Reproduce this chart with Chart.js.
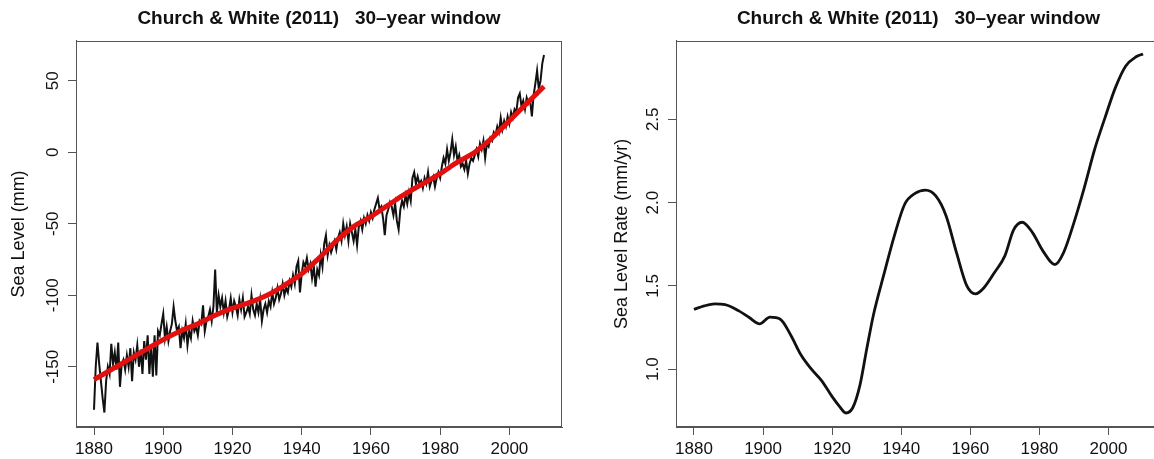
<!DOCTYPE html>
<html>
<head>
<meta charset="utf-8">
<script src="https://cdn.jsdelivr.net/npm/chart.js@4.4.1/dist/chart.umd.min.js"></script>
<style>
  html, body { margin: 0; padding: 0; background: #fff; }
  #wrap { position: relative; width: 1154px; height: 459px; overflow: hidden; }
  #left { position: absolute; left: 0; top: 0; width: 580px; height: 459px; }
  #right { position: absolute; left: 580px; top: 0; width: 574px; height: 459px; overflow: hidden; }
</style>
</head>
<body>
<div id="wrap">
  <div id="left"><canvas id="levelChart" width="580" height="459"></canvas></div>
  <div id="right"><canvas id="rateChart" width="600" height="459"></canvas></div>
</div>
<script>
// Sea level (mm) at half-year steps
const levelYears = [
  1880,1880.5,1881,1881.5,1882,1882.5,1883,1883.5,1884,1884.5,1885,1885.5,1886,1886.5,1887,1887.5,1888,1888.5,1889,1889.5,
  1890,1890.5,1891,1891.5,1892,1892.5,1893,1893.5,1894,1894.5,1895,1895.5,1896,1896.5,1897,1897.5,1898,1898.5,1899,1899.5,
  1900,1900.5,1901,1901.5,1902,1902.5,1903,1903.5,1904,1904.5,1905,1905.5,1906,1906.5,1907,1907.5,1908,1908.5,1909,1909.5,
  1910,1910.5,1911,1911.5,1912,1912.5,1913,1913.5,1914,1914.5,1915,1915.5,1916,1916.5,1917,1917.5,1918,1918.5,1919,1919.5,
  1920,1920.5,1921,1921.5,1922,1922.5,1923,1923.5,1924,1924.5,1925,1925.5,1926,1926.5,1927,1927.5,1928,1928.5,1929,1929.5,
  1930,1930.5,1931,1931.5,1932,1932.5,1933,1933.5,1934,1934.5,1935,1935.5,1936,1936.5,1937,1937.5,1938,1938.5,1939,1939.5,
  1940,1940.5,1941,1941.5,1942,1942.5,1943,1943.5,1944,1944.5,1945,1945.5,1946,1946.5,1947,1947.5,1948,1948.5,1949,1949.5,
  1950,1950.5,1951,1951.5,1952,1952.5,1953,1953.5,1954,1954.5,1955,1955.5,1956,1956.5,1957,1957.5,1958,1958.5,1959,1959.5,
  1960,1960.5,1961,1961.5,1962,1962.5,1963,1963.5,1964,1964.5,1965,1965.5,1966,1966.5,1967,1967.5,1968,1968.5,1969,1969.5,
  1970,1970.5,1971,1971.5,1972,1972.5,1973,1973.5,1974,1974.5,1975,1975.5,1976,1976.5,1977,1977.5,1978,1978.5,1979,1979.5,
  1980,1980.5,1981,1981.5,1982,1982.5,1983,1983.5,1984,1984.5,1985,1985.5,1986,1986.5,1987,1987.5,1988,1988.5,1989,1989.5,
  1990,1990.5,1991,1991.5,1992,1992.5,1993,1993.5,1994,1994.5,1995,1995.5,1996,1996.5,1997,1997.5,1998,1998.5,1999,1999.5,
  2000,2000.5,2001,2001.5,2002,2002.5,2003,2003.5,2004,2004.5,2005,2005.5,2006,2006.5,2007,2007.5,2008,2008.5,2009,2009.5,
  2010
];
const levelValues = [
  -180,-150,-133,-148,-160,-172,-182,-160,-150,-155,-134,-148,-140,-152,-133,-164,-148,-145,-152,-142,
  -150,-137,-160,-140,-145,-135,-150,-138,-155,-132,-145,-128,-155,-135,-157,-128,-156,-125,-128,-120,
  -113,-130,-122,-132,-125,-120,-108,-118,-125,-122,-137,-125,-130,-120,-135,-125,-130,-118,-125,-122,
  -128,-118,-120,-107,-125,-118,-115,-110,-118,-108,-82,-112,-100,-108,-102,-112,-104,-115,-110,-102,
  -112,-104,-108,-114,-103,-110,-102,-115,-112,-108,-113,-100,-110,-114,-106,-112,-103,-118,-110,-106,
  -112,-104,-108,-98,-106,-102,-95,-103,-99,-92,-100,-95,-98,-90,-94,-86,-92,-80,-76,-98,
  -85,-77,-80,-74,-82,-78,-88,-80,-94,-82,-86,-72,-80,-64,-58,-72,-65,-70,-66,-62,
  -68,-60,-56,-62,-50,-58,-52,-62,-50,-56,-62,-54,-65,-52,-48,-54,-46,-50,-44,-48,
  -42,-46,-40,-36,-32,-40,-38,-46,-58,-44,-40,-35,-38,-44,-36,-48,-54,-40,-34,-38,
  -30,-36,-28,-34,-18,-14,-22,-17,-22,-20,-25,-18,-22,-14,-24,-20,-17,-24,-18,-14,
  -18,-10,-4,-8,2,-6,0,9,-2,4,-6,-2,-10,-8,-12,-6,-15,-8,-4,-6,
  -2,2,-3,6,2,8,-4,6,4,10,8,14,12,18,14,24,16,22,18,25,
  20,28,24,30,28,38,41,32,36,30,38,34,36,25,40,48,57,44,50,62,
  68
];

// smoothed curve (red)
const trendYears = [1880,1885,1890,1895,1900,1905,1910,1915,1920,1925,1930,1935,1940,1945,1950,1955,1960,1965,1970,1975,1980,1985,1990,1995,2000,2005,2010];
const trendValues = [-159,-152,-145,-138,-131,-125,-120,-114,-109,-105,-100,-93,-85,-74,-62,-52,-45,-37,-29,-22,-15,-7,0,10,22,34,46];

// sea level rate (mm/yr), right panel
const rateYears = [1880,1883,1886,1889,1893,1896,1899,1902,1905,1908,1911,1914,1917,1920,1922,1924,1926,1928,1930,1932,1935,1938,1941,1944,1947,1950,1953,1956,1959,1961.5,1964,1967,1970,1972.5,1975,1978,1981,1984.5,1987,1990,1993,1996,1999,2002,2005,2008,2010];
const rateValues = [1.359,1.38,1.392,1.388,1.35,1.31,1.272,1.312,1.30,1.205,1.085,1.0,0.93,0.835,0.78,0.737,0.77,0.9,1.12,1.33,1.57,1.8,1.99,2.055,2.075,2.04,1.92,1.70,1.50,1.452,1.49,1.58,1.68,1.835,1.882,1.82,1.71,1.628,1.70,1.88,2.09,2.32,2.51,2.69,2.82,2.875,2.892];

const yearTicks = [1880, 1900, 1920, 1940, 1960, 1980, 2000];
const levelTicks = [-150, -100, -50, 0, 50];
const rateTicks = [1.0, 1.5, 2.0, 2.5];

const chartTitle = 'Church & White (2011)   30\u2013year window';
const levelLabel = 'Sea Level (mm)';
const rateLabel = 'Sea Level Rate (mm/yr)';

const FONT = '"Liberation Sans", Arial, Helvetica, sans-serif';
const axisColor = '#555';
const textColor = '#111';

// box around the plot region, like R's box()
const framePlugin = {
  id: 'frame',
  afterDatasetsDraw(chart) {
    const { ctx, chartArea: a } = chart;
    const l = Math.round(a.left) + 0.5, t = Math.round(a.top) + 0.5;
    const r = Math.round(a.right) - 0.5, b = Math.round(a.bottom) - 0.5;
    ctx.save();
    ctx.strokeStyle = axisColor;
    ctx.lineWidth = 1;
    ctx.strokeRect(l, t, r - l, b - t);
    ctx.restore();
  }
};

function toPoints(xs, ys) {
  return xs.map((x, i) => ({ x: x, y: ys[i] }));
}

function yearAxis() {
  return {
    type: 'linear',
    min: 1874.8,
    max: 2015.2,
    afterBuildTicks: s => { s.ticks = yearTicks.map(v => ({ value: v })); },
    afterFit: s => { s.height = 32; },
    grid: { drawOnChartArea: false, drawTicks: true, tickLength: 8, tickColor: axisColor, tickWidth: 1 },
    border: { display: true, color: axisColor, width: 1 },
    ticks: {
      color: textColor, padding: 4, maxRotation: 0, autoSkip: false,
      font: { family: FONT, size: 17 },
      callback: v => String(v)
    }
  };
}

function valueAxis(cfg) {
  return {
    type: 'linear',
    min: cfg.min,
    max: cfg.max,
    afterBuildTicks: s => { s.ticks = cfg.ticks.map(v => ({ value: v })); },
    afterFit: s => { s.width = cfg.width; },
    grid: { drawOnChartArea: false, drawTicks: true, tickLength: 8, tickColor: axisColor, tickWidth: 1 },
    border: { display: true, color: axisColor, width: 1 },
    title: {
      display: true, text: cfg.label, color: textColor, padding: 0,
      font: { family: FONT, size: 18 }
    },
    ticks: {
      color: textColor, padding: cfg.tickPad, minRotation: 90, maxRotation: 90,
      crossAlign: 'center', autoSkip: false,
      font: { family: FONT, size: 17 },
      callback: cfg.format
    }
  };
}

function baseOptions(padLeft, padRight, yAxis) {
  return {
    responsive: false,
    animation: false,
    events: [],
    layout: { padding: { left: padLeft, right: padRight, top: 0, bottom: 0 } },
    plugins: {
      legend: { display: false },
      tooltip: { enabled: false },
      title: {
        display: true, text: chartTitle, fullSize: false, color: textColor,
        font: { family: FONT, size: 19, weight: 'bold' },
        padding: { top: 7, bottom: 11 }
      }
    },
    elements: { point: { radius: 0 } },
    scales: { x: yearAxis(), y: yAxis }
  };
}

new Chart(document.getElementById('levelChart').getContext('2d'), {
  type: 'line',
  data: {
    datasets: [{
      label: 'Smoothed',
      data: toPoints(trendYears, trendValues),
      borderColor: '#e31010',
      borderWidth: 5,
      cubicInterpolationMode: 'monotone',
      fill: false
    }, {
      label: 'Sea level',
      data: toPoints(levelYears, levelValues),
      borderColor: '#111',
      borderWidth: 2,
      tension: 0,
      fill: false
    }]
  },
  options: baseOptions(8.2, 18, valueAxis({
    min: -192.1, max: 77.9, ticks: levelTicks, width: 67.8, tickPad: -2,
    label: levelLabel, format: v => String(v)
  })),
  plugins: [framePlugin]
});

new Chart(document.getElementById('rateChart').getContext('2d'), {
  type: 'line',
  data: {
    datasets: [{
      label: 'Rate',
      data: toPoints(rateYears, rateValues),
      borderColor: '#111',
      borderWidth: 2.8,
      cubicInterpolationMode: 'monotone',
      fill: false
    }]
  },
  options: baseOptions(31.2, 19, valueAxis({
    min: 0.653, max: 2.971, ticks: rateTicks, width: 64.8, tickPad: 3,
    label: rateLabel, format: v => v.toFixed(1)
  })),
  plugins: [framePlugin]
});
</script>
</body>
</html>
